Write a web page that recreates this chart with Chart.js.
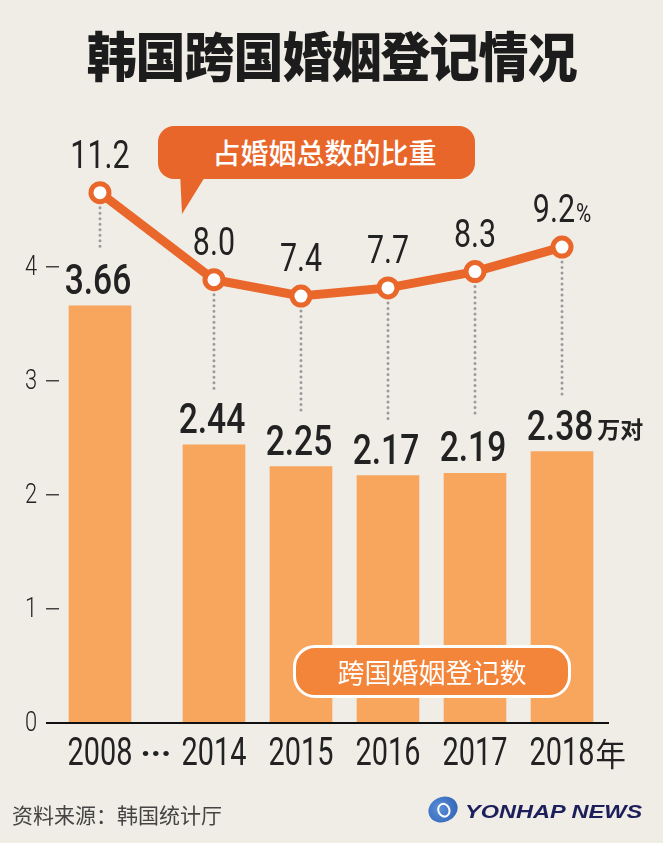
<!DOCTYPE html>
<html>
<head>
<meta charset="utf-8">
<script src="https://cdn.jsdelivr.net/npm/chart.js@4.4.0/dist/chart.umd.min.js"></script>
<style>
  html, body { margin: 0; padding: 0; }
  body {
    width: 663px; height: 843px; overflow: hidden; position: relative;
    background: #f0ede7; font-family: "Noto Sans CJK SC", sans-serif;
  }
  #chart { position: absolute; left: 0; top: 0; }
  .title {
    position: absolute; left: 0; top: 24px; width: 663px; height: 60px;
    line-height: 60px; text-align: center; font-size: 50px; font-weight: 900;
    color: #1c1c1c; letter-spacing: -1px; transform: scaleY(1.06);
  }
  .tag {
    position: absolute; color: #fff; text-align: center; white-space: nowrap;
  }
  .tag-share {
    left: 158px; top: 126px; width: 317px; height: 53px; line-height: 53px;
    border-radius: 16px; background: #e8662a; font-size: 28px; font-weight: 500;
    box-sizing: border-box; padding-left: 16px;
  }
  .tag-tail {
    position: absolute; left: 176px; top: 172px; width: 34px; height: 42px;
    background: #e8662a; clip-path: polygon(4px 0, 32px 0, 6px 42px);
  }
  .tag-count {
    left: 293px; top: 645px; width: 278px; height: 53px; line-height: 47px;
    border: 3px solid #fff; border-radius: 22px; background: #f3853a;
    font-size: 27px; font-weight: 400; box-sizing: border-box;
  }
  .source {
    position: absolute; left: 12px; top: 799px; line-height: 30px;
    font-size: 21px; color: #444;
  }
  .logo-mark {
    position: absolute; left: 428px; top: 797px; width: 30px; height: 25px;
    border-radius: 50%; background: radial-gradient(circle at 40% 40%, #5a8fd8, #2a5cb0);
    transform: rotate(-25deg);
  }
  .logo-mark::after {
    content: ""; position: absolute; left: 9px; top: 6px; width: 9px; height: 11px;
    border: 2px solid #fff; border-radius: 50%;
  }
  .logo-text {
    position: absolute; left: 465px; top: 801px; font-family: "Liberation Sans", sans-serif;
    font-size: 19px; font-weight: bold; font-style: italic; color: #1c1f5a;
    transform: scaleX(1.24); transform-origin: left center; line-height: 22px;
  }
</style>
</head>
<body>
<div class="title">韩国跨国婚姻登记情况</div>
<canvas id="chart" width="663" height="843"></canvas>
<div class="tag-tail"></div>
<div class="tag tag-share">占婚姻总数的比重</div>
<div class="tag tag-count">跨国婚姻登记数</div>
<div class="source">资料来源：韩国统计厅</div>
<div class="logo-mark"></div>
<div class="logo-text">YONHAP NEWS</div>

<script>
const years = ['2008', '2014', '2015', '2016', '2017', '2018'];
const yearUnit = '年';
const marriages = [3.66, 2.44, 2.25, 2.17, 2.19, 2.38];
const marriageUnit = '万对';
const sharePct = [11.2, 8.0, 7.4, 7.7, 8.3, 9.2];
const yTicks = [0, 1, 2, 3, 4];

// axis is broken between 2008 and 2014, so the first bar sits a bit further left
const xPos = years.map((y, i) => (i === 0 ? 0 : i + 0.31));

const BAR = '#f8a55e';
const LINE = '#e9672a';
const INK = '#222';

function drawText(ctx, text, x, y, font, sx, align, baseline) {
  ctx.save();
  ctx.font = font;
  ctx.textBaseline = baseline || 'alphabetic';
  const w = ctx.measureText(text).width * sx;
  let left = x;
  if (align === 'center') left = x - w / 2;
  if (align === 'right') left = x - w;
  ctx.translate(left, y);
  ctx.scale(sx, 1);
  ctx.textAlign = 'left';
  ctx.fillStyle = INK;
  ctx.fillText(text, 0, 0);
  ctx.restore();
  return w;
}

function textWidth(ctx, text, font, sx) {
  ctx.save();
  ctx.font = font;
  const w = ctx.measureText(text).width * sx;
  ctx.restore();
  return w;
}

const labelsPlugin = {
  id: 'labels',
  beforeDatasetsDraw(chart) {
    const ctx = chart.ctx;
    const x = chart.scales.x, y = chart.scales.y, y2 = chart.scales.y2;
    // dotted guides from each point down to the bar label
    ctx.save();
    ctx.strokeStyle = '#9b9b9b';
    ctx.lineWidth = 3;
    ctx.lineCap = 'round';
    ctx.setLineDash([0, 5.5]);
    sharePct.forEach((v, i) => {
      const px = x.getPixelForValue(xPos[i]);
      const top = y2.getPixelForValue(v) + 15;
      const bottom = y.getPixelForValue(marriages[i]) - 55;
      ctx.beginPath();
      ctx.moveTo(px, top);
      ctx.lineTo(px, bottom);
      ctx.stroke();
    });
    ctx.restore();
  },
  afterDatasetsDraw(chart) {
    const ctx = chart.ctx;
    const x = chart.scales.x, y = chart.scales.y, y2 = chart.scales.y2;
    const area = chart.chartArea;

    // baseline
    ctx.save();
    ctx.strokeStyle = '#111';
    ctx.lineWidth = 2;
    ctx.beginPath();
    ctx.moveTo(46, y.getPixelForValue(0));
    ctx.lineTo(area.right, y.getPixelForValue(0));
    ctx.stroke();
    ctx.restore();

    // y tick labels
    yTicks.forEach(t => {
      drawText(ctx, String(t), 37, y.getPixelForValue(t) + 1, '300 28px Roboto', 0.78, 'right', 'middle');
    });

    // x labels
    const xFont = '400 38px Roboto';
    years.forEach((yr, i) => {
      const px = x.getPixelForValue(xPos[i]);
      const w = drawText(ctx, yr, px, 765, xFont, 0.76, 'center');
      if (i === years.length - 1) {
        drawText(ctx, yearUnit, px + w / 2 + 1, 766, '400 32px "Noto Sans CJK SC"', 0.95, 'left');
      }
    });
    const midGap = (x.getPixelForValue(xPos[0]) + x.getPixelForValue(xPos[1])) / 2;
    drawText(ctx, '···', midGap - 1, 765, '700 34px Roboto', 1, 'center');

    // bar values
    const barFont = '500 42px Roboto';
    marriages.forEach((v, i) => {
      const px = x.getPixelForValue(xPos[i]);
      const base = y.getPixelForValue(v) - 12;
      const w = drawText(ctx, v.toFixed(2), px - 2, base, barFont, 0.8, 'center');
      if (i === marriages.length - 1) {
        drawText(ctx, marriageUnit, px - 2 + w / 2 + 4, base - 2, '700 23px "Noto Sans CJK SC"', 1, 'left');
      }
    });

    // share values
    const shareFont = '400 38px Roboto';
    sharePct.forEach((v, i) => {
      const px = x.getPixelForValue(xPos[i]);
      const base = y2.getPixelForValue(v) - 25;
      const txt = v.toFixed(1);
      if (i === sharePct.length - 1) {
        const w1 = textWidth(ctx, txt, shareFont, 0.8);
        const w2 = textWidth(ctx, '%', '400 26px Roboto', 0.8);
        const left = px - (w1 + w2 + 1) / 2;
        drawText(ctx, txt, left, base, shareFont, 0.8, 'left');
        drawText(ctx, '%', left + w1 + 1, base, '400 26px Roboto', 0.8, 'left');
      } else {
        drawText(ctx, txt, px, base, shareFont, 0.8, 'center');
      }
    });
  }
};

const ctx = document.getElementById('chart').getContext('2d');
new Chart(ctx, {
  type: 'bar',
  data: {
    datasets: [
      {
        type: 'line',
        label: '占婚姻总数的比重',
        data: sharePct.map((v, i) => ({ x: xPos[i], y: v })),
        yAxisID: 'y2',
        borderColor: LINE,
        borderWidth: 9,
        pointRadius: 9,
        pointBorderWidth: 5,
        pointBackgroundColor: '#fff',
        pointBorderColor: LINE,
        tension: 0,
        order: 0
      },
      {
        type: 'bar',
        label: '跨国婚姻登记数',
        data: marriages.map((v, i) => ({ x: xPos[i], y: v })),
        yAxisID: 'y',
        backgroundColor: BAR,
        barThickness: 62,
        order: 1
      }
    ]
  },
  options: {
    responsive: false,
    animation: false,
    events: [],
    layout: { padding: { left: 46, right: 54, top: 153, bottom: 120 } },
    plugins: { legend: { display: false }, tooltip: { enabled: false } },
    scales: {
      x: { type: 'linear', display: false, offset: false, min: -0.471, max: 5.85 },
      y: {
        position: 'left',
        min: 0,
        max: 5,
        afterBuildTicks: s => { s.ticks = yTicks.map(v => ({ value: v })); },
        ticks: { display: false },
        grid: { drawOnChartArea: false, drawTicks: true, tickLength: 13, color: '#444', lineWidth: 1.5 },
        border: { display: false }
      },
      y2: { display: false, min: -8.3, max: 12.66 }
    }
  },
  plugins: [labelsPlugin]
});
</script>
</body>
</html>
